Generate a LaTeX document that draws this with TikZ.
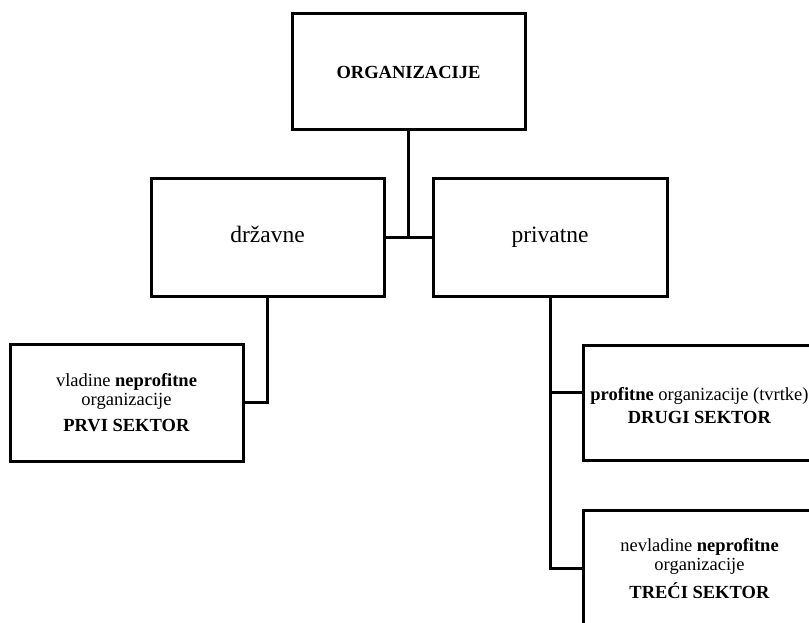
\documentclass[tikz,border=0pt]{standalone}
\usepackage{fontspec}
\setmainfont{Liberation Serif}
\begin{document}
\begin{tikzpicture}[x=1pt,y=-1pt,
  box/.style={draw,line width=3pt,inner sep=0pt,align=center,anchor=center},
  conn/.style={line width=3pt},
  small/.style={font=\fontsize{18.5}{19}\selectfont},
  big/.style={font=\fontsize{23.5}{26}\selectfont,text height=16pt,text depth=6pt}]
\clip (0,0) rectangle (809,623);
\node[box,small,minimum width=233pt,minimum height=116pt] (org) at (408.5,72) {\textbf{ORGANIZACIJE}};
\node[box,big,minimum width=233pt,minimum height=117pt] (drz) at (267.5,237.5) {državne};
\node[box,big,minimum width=234pt,minimum height=117pt] (priv) at (550,237.5) {privatne};
\node[box,small,minimum width=233pt,minimum height=117pt] (prvi) at (126.5,402.5)
  {vladine \textbf{neprofitne}\\ organizacije\\[7pt] \textbf{PRVI SEKTOR}};
\node[box,minimum width=233pt,minimum height=115pt] (drugi) at (699.5,402.5) {};
\node[small,align=center,inner sep=0pt] (drugitext) at ([yshift=-3.5pt]drugi.center)
  {\textbf{profitne} organizacije (tvrtke)\\[4pt] \textbf{DRUGI SEKTOR}};
\node[box,small,minimum width=233pt,minimum height=117pt] (treci) at (699.5,568.5)
  {nevladine \textbf{neprofitne}\\ organizacije\\[7pt] \textbf{TREĆI SEKTOR}};
\draw[conn] (org.south) -- (org.south |- drz.east);
\draw[conn] (drz.east) -- (priv.west);
\draw[conn] (drz.south) |- (prvi.east);
\draw[conn] (priv.south) |- ([yshift=10pt]drugi.west);
\draw[conn] (priv.south) |- (treci.west);
\end{tikzpicture}
\end{document}
